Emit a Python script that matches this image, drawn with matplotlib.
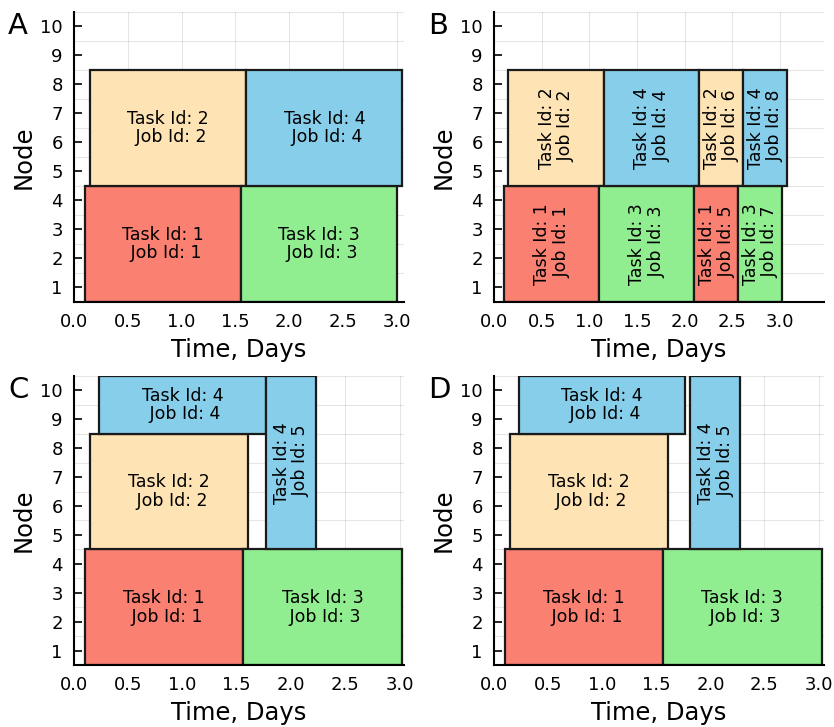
import numpy as np
import matplotlib
matplotlib.use("Agg")
import matplotlib.pyplot as plt

plt.rcParams['font.family'] = 'DejaVu Sans'

task_colors = {1: "#FA8072", 2: "#FEE3B5", 3: "#90EE90", 4: "#87CEEB"}

# panel A
a_tasks  = [1, 2, 3, 4]
a_jobs   = [1, 2, 3, 4]
a_start  = [0.10, 0.15, 1.55, 1.60]
a_end    = [1.55, 1.60, 3.00, 3.05]
a_lo     = [0.5, 4.5, 0.5, 4.5]
a_hi     = [4.5, 8.5, 4.5, 8.5]
a_rot    = [False, False, False, False]

# panel B
b_tasks  = [1, 2, 3, 4, 1, 2, 3, 4]
b_jobs   = [1, 2, 3, 4, 5, 6, 7, 8]
b_start  = [0.10, 0.15, 1.10, 1.15, 2.10, 2.15, 2.56, 2.61]
b_end    = [1.10, 1.15, 2.10, 2.15, 2.56, 2.61, 3.02, 3.07]
b_lo     = [0.5, 4.5, 0.5, 4.5, 0.5, 4.5, 0.5, 4.5]
b_hi     = [4.5, 8.5, 4.5, 8.5, 4.5, 8.5, 4.5, 8.5]
b_rot    = [True] * 8

# panel C
c_tasks  = [1, 2, 3, 4, 4]
c_jobs   = [1, 2, 3, 4, 5]
c_start  = [0.10, 0.15, 1.56, 0.23, 1.77]
c_end    = [1.56, 1.60, 3.02, 1.77, 2.23]
c_lo     = [0.5, 4.5, 0.5, 8.5, 4.5]
c_hi     = [4.5, 8.5, 4.5, 10.5, 10.5]
c_rot    = [False, False, False, False, True]

# panel D
d_tasks  = [1, 2, 3, 4, 4]
d_jobs   = [1, 2, 3, 4, 5]
d_start  = [0.10, 0.145, 1.56, 0.23, 1.815]
d_end    = [1.56, 1.605, 3.03, 1.77, 2.275]
d_lo     = [0.5, 4.5, 0.5, 8.5, 4.5]
d_hi     = [4.5, 8.5, 4.5, 10.5, 10.5]
d_rot    = [False, False, False, False, True]

x_ticks = [0.0, 0.5, 1.0, 1.5, 2.0, 2.5, 3.0]
y_ticks = list(range(1, 11))


def draw_panel(ax, letter, tasks, jobs, start, end, lo, hi, rot, xmax):
    start = np.array(start)
    end = np.array(end)
    lo = np.array(lo)
    hi = np.array(hi)
    cols = [task_colors[t] for t in tasks]
    ax.bar(start, hi - lo, width=end - start, bottom=lo, align='edge',
           color=cols, edgecolor='#1a1a1a', linewidth=1.6, zorder=2.7)
    for k in range(len(tasks)):
        label = "Task Id: %d\n Job Id: %d" % (tasks[k], jobs[k])
        ax.text((start[k] + end[k]) / 2, (lo[k] + hi[k]) / 2, label,
                ha='center', va='center', fontsize=12.5, linespacing=1.05,
                rotation=90 if rot[k] else 0, zorder=4)

    ax.set_xlim(0, xmax)
    ax.set_ylim(0.5, 10.5)
    ax.set_xticks(x_ticks)
    ax.set_xticklabels(["%.1f" % v for v in x_ticks])
    ax.set_yticks(y_ticks)
    ax.set_yticks(np.arange(0.5, 11, 1.0), minor=True)
    ax.tick_params(which='major', direction='in', length=6, width=1.2,
                   labelsize=13, pad=8)
    ax.tick_params(which='minor', length=0)
    ax.grid(axis='x', which='major', color='black', alpha=0.1, linewidth=0.8, zorder=3)
    ax.grid(axis='y', which='minor', color='black', alpha=0.1, linewidth=0.8, zorder=3)
    ax.set_axisbelow(False)
    for s in ['top', 'right']:
        ax.spines[s].set_visible(False)
    for s in ['left', 'bottom']:
        ax.spines[s].set_linewidth(1.5)
        ax.spines[s].set_zorder(5)
    ax.set_xlabel("Time, Days", fontsize=17.5, labelpad=5)
    ax.set_ylabel("Node", fontsize=17.5, labelpad=3)
    ax.text(-0.2, 1.0, letter, transform=ax.transAxes, fontsize=21,
            ha='left', va='top')


fig = plt.figure(figsize=(8.34, 7.27), dpi=100)

ax_a = fig.add_axes([0.0887, 0.5846, 0.3957, 0.3989])
ax_b = fig.add_axes([0.5923, 0.5846, 0.3957, 0.3989])
ax_c = fig.add_axes([0.0887, 0.0853, 0.3957, 0.3975])
ax_d = fig.add_axes([0.5923, 0.0853, 0.3957, 0.3975])

draw_panel(ax_a, "A", a_tasks, a_jobs, a_start, a_end, a_lo, a_hi, a_rot, 3.065)
draw_panel(ax_b, "B", b_tasks, b_jobs, b_start, b_end, b_lo, b_hi, b_rot, 3.46)
draw_panel(ax_c, "C", c_tasks, c_jobs, c_start, c_end, c_lo, c_hi, c_rot, 3.04)
draw_panel(ax_d, "D", d_tasks, d_jobs, d_start, d_end, d_lo, d_hi, d_rot, 3.05)

fig.savefig("out.png", dpi=100)
